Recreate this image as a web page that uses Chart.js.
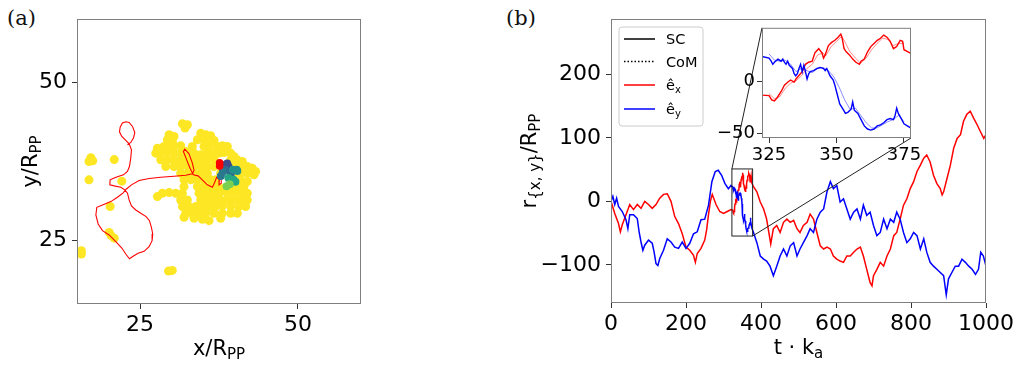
<!DOCTYPE html>
<html>
<head>
<meta charset="utf-8">
<script src="https://cdn.jsdelivr.net/npm/chart.js@4.4.0/dist/chart.umd.min.js"></script>
<style>
  body { margin: 0; background: #fff; width: 1032px; height: 365px; overflow: hidden; position: relative; }
  canvas { position: absolute; }
  #cA { left: 0; top: 0; }
  #cB { left: 500px; top: 0; }
  #cC { left: 710px; top: 15px; }
  .tag { position: absolute; font-family: "DejaVu Serif", serif; font-size: 21px; line-height: 1; color: #111; }
</style>
</head>
<body>
<div class="tag" style="left:7px;top:8px">(a)</div>
<div class="tag" style="left:506px;top:8px">(b)</div>
<canvas id="cA" width="380" height="365"></canvas>
<canvas id="cB" width="532" height="365"></canvas>
<canvas id="cC" width="215" height="155"></canvas>
<script>
// ---- panel (a): positions in units of R_PP ----
const aTicks = [25, 50];
const yellowX = [31.70,32.49,32.12, 29.59,30.38,34.60,35.39,36.18, 29.32,30.12,34.07,34.86,35.65,36.71,
  27.74,28.80,29.59,30.38,31.43,33.28,35.13,35.92,37.24,38.03,38.82,
  27.48,28.27,29.32,30.38,31.43,32.23,33.54,34.60,35.65,36.71,37.50,38.29,39.35,39.87,
  28.27,29.32,30.38,31.43,32.49,33.54,34.60,35.65,36.71,39.35,40.40,41.19,
  29.06,30.38,31.43,32.49,33.54,34.60,35.65,36.71,39.87,40.93,41.98,42.77,
  31.43,32.49,33.54,34.60,35.65,37.76,39.87,40.93,41.98,43.30,43.04,
  31.96,33.02,34.07,35.13,36.18,36.97,39.87,40.93,41.98,
  31.96,34.07,35.13,36.18,37.24,38.29,39.35,40.40,41.46,
  27.74,28.53,29.59,30.64,31.70,34.34,35.39,36.45,37.50,38.82,39.87,40.93,41.98,
  31.43,32.49,34.60,35.65,36.71,37.76,38.82,39.87,40.93,41.98,
  31.70,32.75,33.81,34.86,35.92,36.97,38.03,39.35,40.66,41.72,
  32.23,33.28,34.34,35.39,36.71,38.03,39.35,40.40,
  31.96,33.54,34.86,35.92,37.76,
  16.9,17.5,17.2,20.9,16.9,22.1,20.25,20.1,20.4,20.9,15.7,15.7,29.5,30.1];
const yellowY = [43.46,43.30,42.77, 41.72,41.46,41.98,41.72,41.56, 40.93,40.66,40.93,41.03,40.93,40.82,
  39.61,39.87,39.87,39.87,39.98,39.87,39.87,39.87,39.87,39.98,39.87,
  38.82,38.82,38.82,38.82,38.82,39.08,38.82,38.55,38.82,38.82,38.82,38.92,38.82,38.29,
  37.76,37.76,37.76,37.76,37.87,37.66,37.76,37.76,37.87,37.76,37.76,37.50,
  36.71,36.71,36.71,36.81,36.71,36.71,36.71,36.71,36.71,36.71,36.71,36.45,
  35.65,35.65,35.65,35.65,35.65,35.65,35.65,35.65,35.65,35.92,35.39,
  34.60,34.60,34.60,34.60,34.60,34.60,34.60,34.60,34.34,
  33.54,33.54,33.54,33.54,33.54,33.28,33.54,33.54,33.54,
  31.96,32.49,32.59,32.49,32.49,32.49,32.49,32.49,32.49,32.49,32.49,32.49,32.49,
  31.43,31.43,31.43,31.43,31.43,31.43,31.43,31.43,31.43,31.43,
  30.38,30.38,30.38,30.38,30.38,30.38,30.49,30.38,30.38,30.38,
  29.32,29.32,29.32,29.32,29.32,29.32,29.32,29.32,
  28.69,28.53,28.38,28.16,28.53,
  37.5,37.6,38.1,37.8,34.6,34.4,30.4,26.3,25.8,25.4,23.4,22.9,20.2,20.3];
const pathX = [23.00,23.52,23.95,24.16,23.79,23.26,22.73,22.20,21.84,21.73,22.10,22.73,23.26,23.63,23.52,23.31,22.99,22.36,21.52,20.78,
  20.25,20.20,20.89,21.94,22.57,23.00,23.26,23.63,24.31,25.11,25.95,26.48,26.79,27.00,26.90,26.42,25.63,24.68,23.95,23.31,
  22.73,22.10,21.15,20.09,19.04,18.35,17.99,18.14,19.04,20.36,21.41,22.36,22.78,23.63,24.84,26.42,28.27,30.38,32.23,33.28,
  33.54,33.28,32.75,32.07,31.86,32.38,32.91,33.44,34.18,34.86,35.65,36.45,36.81,37.13,37.55,37.50,37.87,37.76,37.66];
const pathY = [40.14,40.51,41.19,42.09,43.04,43.67,43.78,43.57,42.93,42.19,41.46,40.82,40.30,39.35,38.03,36.71,35.92,35.39,35.13,34.86,
  34.60,33.81,33.65,33.44,33.02,32.49,31.43,30.49,29.85,29.32,28.80,28.16,27.11,26.05,25.00,24.05,23.31,23.00,22.57,22.15,
  22.89,23.84,24.84,25.90,26.58,27.64,29.06,30.27,30.64,31.17,31.86,32.59,33.12,33.81,34.49,34.81,35.02,35.18,35.34,35.55,
  36.08,37.24,38.71,39.45,39.08,37.76,36.45,35.39,35.23,34.60,33.81,33.44,34.18,35.02,34.60,33.81,34.07,35.92,36.97];
// cluster, grouped by colour shade
const clusterGroups = [
  { color: '#7ad151', x: [38.7, 39.2], y: [33.6, 33.9] },
  { color: '#22a884', x: [39.0, 39.8, 40.1], y: [34.9, 34.6, 34.3] },
  { color: '#21918c', x: [39.7, 40.3, 40.4], y: [36.2, 36.2, 36.0] },
  { color: '#2a788e', x: [38.1, 37.8], y: [35.9, 35.2] },
  { color: '#31688e', x: [39.35, 38.5], y: [35.4, 36.2] },
  { color: '#3e4a89', x: [38.56, 39.0, 38.8], y: [37.0, 36.7, 37.2] }
];
const headX = [37.6, 37.6];
const headY = [37.3, 36.8];

// ---- panel (b): displacement vs time ----
const bXTicks = [0, 200, 400, 600, 800, 1000];
const bYTicks = [-100, 0, 100, 200];
const insetXTicks = [325, 350, 375];
const insetYTicks = [-50, 0];
const redT = [0,10,20,25,30,40,50,60,70,80,90,100,110,120,130,140,150,160,170,180,190,200,210,220,225,230,240,250,255,260,265,270,280,290,300,310,320,
  325,326,327,328,329.5,330.7,332,333,334.3,335,336,337.3,338.5,339.7,341,342,343.4,344.6,345.2,345.8,347,348.2,349.4,350.6,351.6,352.1,352.8,353.6,354.8,356,357.2,358.5,359.1,360.3,361.5,362.7,363.9,365.1,366.3,367.5,368.7,369.9,371.1,372.3,373.6,374.5,375,
  380,389,398,407,415,426,433,442,451,460,469,478,487,496,504,513,523,531,540,549,558,567,576,585,593,602,611,620,629,638,
  647,656,665,673,682,691,696,700,709,718,727,736,745,754,762,771,780,789,798,807,816,825,834,842,851,860,869,878,883,887,
  896,905,914,923,932,940,949,958,967,976,985,994,1000];
const redY = [0,-19,-35,-48,-37,-21,-5,-13,-5,-11,0,-5,-11,-5,5,11,12,0,-24,-35,-51,-72,-77,-85,-96,-82,-74,-61,-45,-21,0,11,-5,-16,-19,-16,-13,
  -14,-18,-19,-16,-10,-4,-1,1,-1,2,5,9,16,18,19,27,31,27,22,25,34,37,39,42,45,41,31,28,25,21,18,16,19,21,28,33,36,39,41,44,42,38,31,33,39,38,30,
  23,15,-1,-12,-28,-67,-43,-38,-49,-33,-28,-33,-30,-43,-49,-38,-33,-20,-28,-49,-70,-75,-72,-75,-86,-91,-94,-96,-86,-86,
  -80,-75,-72,-86,-107,-128,-133,-117,-107,-96,-102,-86,-75,-54,-49,-28,-6,4,20,31,47,57,68,73,62,41,28,20,10,15,
  36,57,84,99,105,126,137,142,131,121,110,99,105];
const blueT = [0,5,10,15,20,30,40,45,50,60,70,75,80,85,90,100,110,115,120,125,130,140,150,160,170,180,190,200,210,220,230,240,250,260,269,278,286,295,304,313,320,
  325,325.8,326.4,327,328.3,329.5,330.1,330.7,331.3,331.9,332.5,333.7,334.3,334.9,335.5,336.1,336.7,337.3,337.9,338.5,339.1,339.7,340.3,341.5,342.8,344,345.2,345.8,346.4,347.6,
  348.8,349.4,350,350.6,351.2,352.4,353.3,354.2,355.4,356,356.6,357.9,359.1,360.3,361.5,362.7,363.9,365.1,366.3,367.5,368.7,369.9,371.1,371.7,372.3,372.9,374.2,375,
  380,389,398,407,415,424,433,442,451,460,469,478,487,496,504,513,523,531,540,549,558,567,576,585,593,602,611,620,629,638,
  647,656,665,673,682,691,700,709,718,727,736,745,754,762,771,780,789,798,807,816,825,834,842,851,860,869,878,887,894,900,
  909,918,927,936,945,954,963,972,980,986,993,1000];
const blueY = [0,8,-5,5,-8,-16,-29,-43,-21,-21,-27,-48,-64,-77,-69,-61,-66,-80,-98,-101,-90,-77,-59,-64,-72,-74,-64,-74,-66,-51,-48,-29,-28,-6,31,47,49,41,28,20,25,
  22,19,16,18,21,19,21,18,16,19,15,12,7,5,7,12,16,9,15,9,2,7,9,10,12,13,12,10,12,5,
  1,-4,-10,-16,-22,-27,-31,-30,-27,-20,-28,-31,-37,-43,-46,-47,-46,-43,-42,-40,-37,-36,-37,-33,-26,-31,-37,-41,
  -49,-65,-86,-91,-94,-102,-117,-102,-86,-75,-86,-70,-65,-86,-75,-65,-54,-43,-49,-28,-17,-12,15,31,20,25,-1,4,-12,-28,
  -17,-12,-28,-6,-22,-17,-38,-54,-49,-28,-43,-28,-33,-17,-28,-49,-65,-59,-49,-54,-75,-59,-80,-96,-102,-107,-112,-117,-147,-122,
  -112,-102,-102,-91,-96,-102,-107,-115,-107,-80,-86,-102];
// centre of mass (inset only)
const redComT = [325,327,329,331,333,335,337,339,341,343,345,346,348,350,352,353,355,357,359,361,363,365,367,369,371,373,375];
const redComY = [-12,-17,-15,-7,-2,0,5,12,16,25,27,24,33,38,43,38,28,22,17,22,30,36,41,40,34,36,36];
const blueComT = [325,327,329,331,333,335,337,339,341,343,345,347,349,351,353,355,357,359,361,363,365,367,369,371,373,375];
const blueComY = [26,20,19,20,16,9,12,10,8,12,13,10,4,-6,-18,-27,-26,-33,-40,-45,-45,-42,-39,-37,-33,-39];
const insetX = [322.4, 377.6];
const insetY = [-54.6, 51];

const FONT = 'DejaVu Sans';
const pts = (xs, ys) => xs.map((x, i) => ({ x: x, y: ys[i] }));
const fmt = v => (v < 0 ? '\u2212' + Math.abs(v) : String(v));

function axis(min, max, ticks, size, fit, vertical, pad) {
  return {
    type: 'linear', min: min, max: max,
    afterBuildTicks: s => { s.ticks = ticks.map(v => ({ value: v })); },
    afterFit: s => { if (vertical) s.width = fit; else s.height = fit; },
    ticks: { autoSkip: false, maxRotation: 0, padding: pad, color: '#000',
             font: { family: FONT, size: size }, callback: v => fmt(v) },
    grid: { drawOnChartArea: false, drawTicks: true, tickLength: 5, color: '#333' },
    border: { display: false }
  };
}

function drawParts(ctx, parts, x, y, rot) {
  ctx.save();
  ctx.translate(x, y);
  if (rot) ctx.rotate(-Math.PI / 2);
  let w = 0;
  parts.forEach(p => { ctx.font = (p.sub ? 15 : 21) + 'px "' + FONT + '"'; p.w = ctx.measureText(p.t).width; w += p.w; });
  let cx = -w / 2;
  ctx.fillStyle = '#000';
  ctx.textBaseline = 'alphabetic';
  parts.forEach(p => {
    ctx.font = (p.sub ? 15 : 21) + 'px "' + FONT + '"';
    ctx.fillText(p.t, cx, p.sub ? 4 : 0);
    cx += p.w;
  });
  ctx.restore();
}

const frame = {
  id: 'frame',
  afterDatasetsDraw(chart) {
    const a = chart.chartArea, ctx = chart.ctx;
    ctx.save();
    ctx.strokeStyle = '#7f7f7f';
    ctx.lineWidth = 1;
    ctx.strokeRect(a.left + 0.5, a.top + 0.5, a.right - a.left - 1, a.bottom - a.top - 1);
    ctx.restore();
  }
};

function labels(xParts, yParts, xOff, yOff) {
  return {
    id: 'labels',
    afterDraw(chart) {
      const a = chart.chartArea;
      drawParts(chart.ctx, xParts, (a.left + a.right) / 2, a.bottom + xOff, false);
      drawParts(chart.ctx, yParts, a.left - yOff, (a.top + a.bottom) / 2, true);
    }
  };
}

const common = {
  responsive: false, animation: false, events: [],
  plugins: { legend: { display: false }, tooltip: { enabled: false } }
};

// ---------- panel (a) ----------
const aSets = [
  { data: pts(headX, headY), pointRadius: 3.8, backgroundColor: '#ff0000', borderWidth: 0, order: 0 },
  { data: pts(pathX, pathY), showLine: true, pointRadius: 0, borderColor: '#ff0000', borderWidth: 1.1, order: 8 },
  { data: pts(yellowX, yellowY), pointRadius: 4.5, backgroundColor: '#fde725', borderWidth: 0, order: 9 }
];
clusterGroups.forEach((g, i) => aSets.push({ data: pts(g.x, g.y), pointRadius: 4, backgroundColor: g.color, borderWidth: 0, order: 1 + i }));

new Chart(document.getElementById('cA'), {
  type: 'scatter',
  data: { datasets: aSets },
  options: Object.assign({}, common, {
    layout: { padding: { top: 19, right: 19, left: 0, bottom: 0 } },
    scales: { x: axis(15, 60, aTicks, 22, 61, false, 3), y: axis(15, 60, aTicks, 22, 77, true, 5) }
  }),
  plugins: [frame, labels([{ t: 'x/R' }, { t: 'PP', sub: true }], [{ t: 'y/R' }, { t: 'PP', sub: true }], 51, 40)]
});

// ---------- inset of panel (b) ----------
const insetBg = {
  id: 'insetBg',
  beforeDraw(chart) {
    const a = chart.chartArea, ctx = chart.ctx;
    ctx.save(); ctx.fillStyle = '#fff';
    ctx.fillRect(a.left, a.top, a.right - a.left, a.bottom - a.top);
    ctx.restore();
  }
};
const inset = new Chart(document.getElementById('cC'), {
  type: 'scatter',
  data: { datasets: [
    { data: pts(redT, redY), showLine: true, pointRadius: 0, borderColor: '#ff0000', borderWidth: 1.4, order: 1 },
    { data: pts(blueT, blueY), showLine: true, pointRadius: 0, borderColor: '#0000ff', borderWidth: 1.4, order: 0 },
    { data: pts(redComT, redComY), showLine: true, pointRadius: 0, borderColor: 'rgba(255,0,0,0.45)', borderWidth: 1, order: 3 },
    { data: pts(blueComT, blueComY), showLine: true, pointRadius: 0, borderColor: 'rgba(0,0,255,0.45)', borderWidth: 1, order: 2 }
  ] },
  options: Object.assign({}, common, {
    layout: { padding: { top: 9, right: 14, left: 0, bottom: 0 } },
    scales: { x: axis(insetX[0], insetX[1], insetXTicks, 18, 32, false, 2), y: axis(insetY[0], insetY[1], insetYTicks, 18, 52, true, 2) }
  }),
  plugins: [insetBg, frame]
});

// ---------- panel (b) ----------
const zoomBox = {
  id: 'zoomBox',
  afterDatasetsDraw(chart) {
    const ctx = chart.ctx, sx = chart.scales.x, sy = chart.scales.y;
    const x0 = sx.getPixelForValue(insetX[0]), x1 = sx.getPixelForValue(insetX[1]);
    const y0 = sy.getPixelForValue(insetY[1]), y1 = sy.getPixelForValue(insetY[0]);
    const ia = inset.chartArea;
    const ox = 210, oy = 15;
    ctx.save();
    ctx.strokeStyle = '#222'; ctx.lineWidth = 1;
    ctx.strokeRect(x0, y0, x1 - x0, y1 - y0);
    ctx.beginPath();
    ctx.moveTo(x0, y0); ctx.lineTo(ia.left + ox, ia.top + oy);
    ctx.moveTo(x1, y1); ctx.lineTo(ia.right + ox, ia.bottom + oy);
    ctx.stroke();
    ctx.restore();
  }
};
const legendBox = {
  id: 'legendBox',
  afterDraw(chart) {
    const ctx = chart.ctx;
    const L = 119, T = 27, W = 84, H = 99, r = 3;
    ctx.save();
    ctx.beginPath();
    ctx.moveTo(L + r, T); ctx.lineTo(L + W - r, T); ctx.arcTo(L + W, T, L + W, T + r, r);
    ctx.lineTo(L + W, T + H - r); ctx.arcTo(L + W, T + H, L + W - r, T + H, r);
    ctx.lineTo(L + r, T + H); ctx.arcTo(L, T + H, L, T + H - r, r);
    ctx.lineTo(L, T + r); ctx.arcTo(L, T, L + r, T, r);
    ctx.fillStyle = 'rgba(255,255,255,0.8)'; ctx.fill();
    ctx.strokeStyle = '#cccccc'; ctx.lineWidth = 1; ctx.stroke();
    const rows = [
      { y: 39, c: '#000', dash: [], parts: [{ t: 'SC' }] },
      { y: 61.5, c: '#000', dash: [1.5, 2], parts: [{ t: 'CoM' }] },
      { y: 85, c: '#ff0000', dash: [], parts: [{ t: '\u00ea' }, { t: 'x', sub: true }] },
      { y: 109, c: '#0000ff', dash: [], parts: [{ t: '\u00ea' }, { t: 'y', sub: true }] }
    ];
    rows.forEach(rw => {
      ctx.beginPath(); ctx.setLineDash(rw.dash);
      ctx.strokeStyle = rw.c; ctx.lineWidth = 1.5;
      ctx.moveTo(124, rw.y); ctx.lineTo(155, rw.y); ctx.stroke();
      ctx.setLineDash([]);
      let x = 166;
      ctx.fillStyle = '#000'; ctx.textBaseline = 'alphabetic';
      rw.parts.forEach(p => {
        ctx.font = (p.sub ? 10 : 14.5) + 'px "' + FONT + '"';
        ctx.fillText(p.t, x, rw.y + 5 + (p.sub ? 3 : 0));
        x += ctx.measureText(p.t).width;
      });
    });
    ctx.restore();
  }
};

new Chart(document.getElementById('cB'), {
  type: 'scatter',
  data: { datasets: [
    { data: pts(redT, redY), showLine: true, pointRadius: 0, borderColor: '#ff0000', borderWidth: 1.5, order: 1 },
    { data: pts(blueT, blueY), showLine: true, pointRadius: 0, borderColor: '#0000ff', borderWidth: 1.5, order: 0 }
  ] },
  options: Object.assign({}, common, {
    layout: { padding: { top: 19, right: 46, left: 0, bottom: 0 } },
    scales: { x: axis(0, 1000, bXTicks, 22, 62, false, 3), y: axis(-160, 287, bYTicks, 22, 111, true, 5) }
  }),
  plugins: [frame, zoomBox, legendBox,
    labels([{ t: 't \u00b7 k' }, { t: 'a', sub: true }],
           [{ t: 'r' }, { t: '{x, y}', sub: true }, { t: '/R' }, { t: 'PP', sub: true }], 51, 75)]
});
</script>
</body>
</html>
